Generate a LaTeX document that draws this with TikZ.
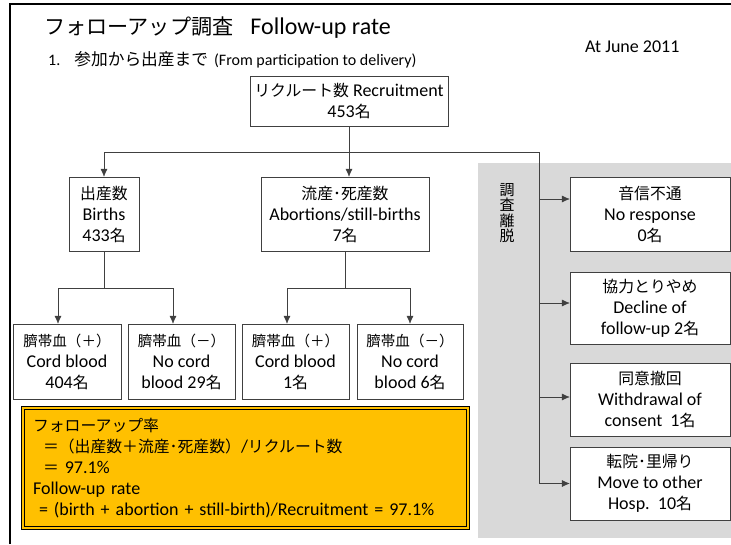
\documentclass[tikz,border=0pt]{standalone}
\usepackage{fontspec}
\setmainfont{Carlito}
\newfontfamily\jpfont[Scale=0.88]{Noto Sans CJK JP}
\newcommand{\jp}[1]{{\jpfont #1}}
\newcommand{\cord}[1]{{\fontsize{16.5}{21}\selectfont\jpfont 臍帯血（#1）}}
\usetikzlibrary{arrows.meta}
\definecolor{rateorange}{HTML}{FFC000}
\definecolor{panelgray}{HTML}{D9D9D9}

\begin{document}
\begin{tikzpicture}[x=1pt,y=-1pt,
  box/.style = {draw=black!75, fill=white, align=center, inner sep=1pt, font=\fontsize{18}{21}\selectfont},
  link/.style = {black!75},
  arr/.style = {black!75, -{Latex[length=8pt,width=7pt]}}]
\useasboundingbox (0,0) rectangle (731,544);
\fill[panelgray] (478,163) rectangle (731,538);
\draw[line width=2.5pt] (10,544) -- (10,4) -- (731,4);

% headings
\node[anchor=west, inner sep=0, font=\fontsize{24}{28}\selectfont] (title) at (44,28) {\jp{フォローアップ調査}\hspace{17pt}Follow-up rate};
\node[anchor=west, inner sep=0, font=\fontsize{18}{20}\selectfont] (date) at (585,47) {At June 2011};
\node[anchor=west, inner sep=0, font=\fontsize{16}{19}\selectfont] (sub) at (48,60) {1.\hspace{14pt}{\fontsize{19}{19}\selectfont\jp{参加から出産まで}}\hspace{6pt}(From participation to delivery)};
\node[inner sep=0, align=center, font=\fontsize{17}{15.5}\selectfont] (quit) at (507,213) {\jp{調}\\\jp{査}\\\jp{離}\\\jp{脱}};

\begin{scope}[every node/.style={box}]
  \node[minimum width=198pt, minimum height=50pt] (rec) at (349,101) {\jp{リクルート数} Recruitment\\453\jp{名}};
  \node[minimum width=70pt, minimum height=74pt] (birth) at (104,214) {\jp{出産数}\\Births\\433\jp{名}};
  \node[minimum width=168pt, minimum height=74pt] (abort) at (345,214) {\jp{流産･死産数}\\Abortions/still-births\\7\jp{名}};
  \node[minimum width=108pt, minimum height=75pt] (c1) at (67,361.5) {\cord{＋}\\Cord blood\\404\jp{名}};
  \node[minimum width=107pt, minimum height=75pt] (c2) at (181.5,361.5) {\cord{－}\\No cord\\blood 29\jp{名}};
  \node[minimum width=107pt, minimum height=75pt] (c3) at (295.5,361.5) {\cord{＋}\\Cord blood\\1\jp{名}};
  \node[minimum width=106pt, minimum height=75pt] (c4) at (410,361.5) {\cord{－}\\No cord\\blood 6\jp{名}};
  \node[minimum width=160pt, minimum height=74pt] (r1) at (650,214) {\jp{音信不通}\\No response\\0\jp{名}};
  \node[minimum width=160pt, minimum height=72pt] (r2) at (650,308) {\jp{協力とりやめ}\\Decline of\\follow-up 2\jp{名}};
  \node[minimum width=160pt, minimum height=73pt] (r3) at (650,399.5) {\jp{同意撤回}\\Withdrawal of\\consent\ \ 1\jp{名}};
  \node[minimum width=160pt, minimum height=73pt] (r4) at (650,483.5) {\jp{転院･里帰り}\\Move to other\\Hosp.\ \ 10\jp{名}};
  \node[draw=black, line width=0.8pt, double=rateorange, double distance=2pt, fill=rateorange,
        align=left, text width=425pt, inner xsep=10pt, minimum height=120pt] (rate) at (245.5,468)
    {\jp{フォローアップ率}\\
     \hspace*{10pt}\jp{＝（出産数＋流産･死産数）}/\jp{リクルート数}\\
     \hspace*{10pt}\jp{＝} 97.1\%\\
     Follow-up rate\\
     \hspace*{6pt}= (birth + abortion + still-birth)/Recruitment = 97.1\%};
\end{scope}

\coordinate (busL) at (104,152);
\coordinate (busR) at (539,152);
\coordinate (cL) at (58,288);
\coordinate (cR) at (173,288);
\coordinate (dL) at (287,288);
\coordinate (dR) at (410,288);
\coordinate (a1) at ([yshift=15pt]r1.west);
\coordinate (a2) at ([yshift=5pt]r2.west);
\coordinate (a3) at ([yshift=2.5pt]r3.west);
\coordinate (a4) at (r4.west);

\draw [link] (busL) -- (busR);
\draw [arr] (rec.south) -- (rec.south |- abort.north);
\draw [arr] (busL) -- (birth.north);
\draw [link] (birth.south) -- (birth.south |- cL);
\draw [link] (cL) -- (cR);
\draw [arr] (cL) -- (cL |- c1.north);
\draw [arr] (cR) -- (cR |- c2.north);
\draw [link] (abort.south) -- (abort.south |- dL);
\draw [link] (dL) -- (dR);
\draw [arr] (dL) -- (dL |- c3.north);
\draw [arr] (dR) -- (dR |- c4.north);
\draw [link] (busR) -- (a4 -| busR);
\draw [arr] (a1 -| busR) -- (a1);
\draw [arr] (a2 -| busR) -- (a2);
\draw [arr] (a3 -| busR) -- (a3);
\draw [arr] (a4 -| busR) -- (a4);
\end{tikzpicture}
\end{document}
